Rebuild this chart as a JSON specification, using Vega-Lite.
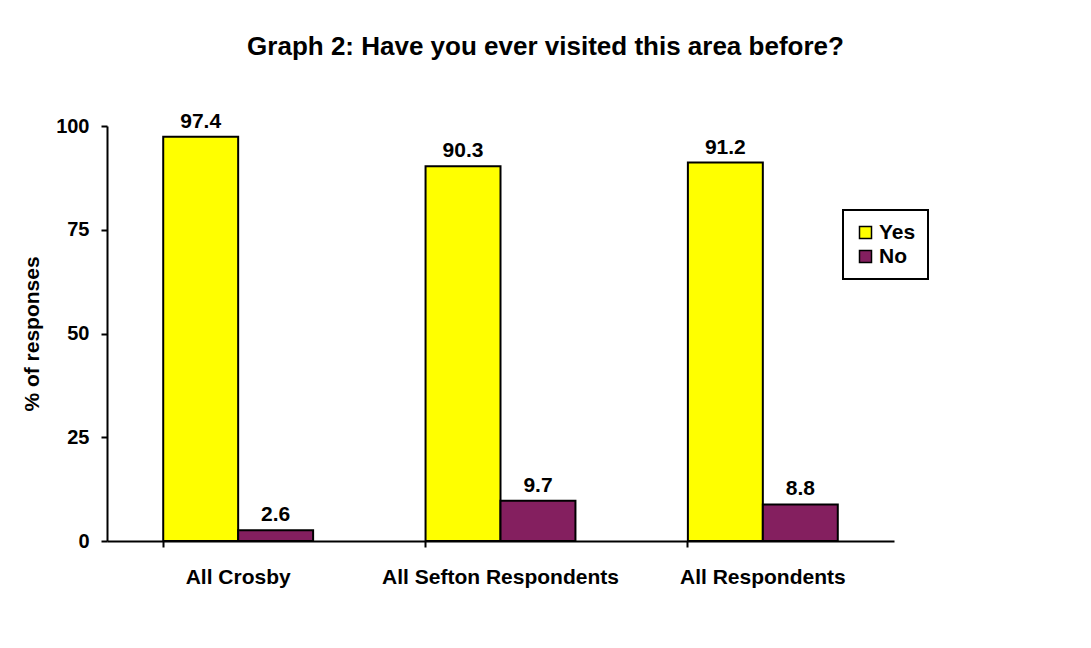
{
  "$schema": "https://vega.github.io/schema/vega-lite/v6.json",
  "autosize": {"type": "none"},
  "width": 787,
  "height": 415,
  "padding": {"left": 107, "top": 126, "right": 197, "bottom": 107},
  "background": "white",
  "title": {
    "text": "Graph 2: Have you ever visited this area before?",
    "font": "Liberation Sans",
    "fontSize": 26,
    "fontWeight": "bold",
    "color": "black",
    "anchor": "middle",
    "frame": "group",
    "baseline": "alphabetic",
    "dx": 45,
    "dy": 4,
    "offset": 34
  },
  "data": {
    "values": [
      {"group": "All Crosby", "answer": "Yes", "pct": 97.4},
      {"group": "All Crosby", "answer": "No", "pct": 2.6},
      {"group": "All Sefton Respondents", "answer": "Yes", "pct": 90.3},
      {"group": "All Sefton Respondents", "answer": "No", "pct": 9.7},
      {"group": "All Respondents", "answer": "Yes", "pct": 91.2},
      {"group": "All Respondents", "answer": "No", "pct": 8.8}
    ]
  },
  "encoding": {
    "x": {
      "field": "group",
      "type": "nominal",
      "sort": ["All Crosby", "All Sefton Respondents", "All Respondents"],
      "scale": {"paddingInner": 0.4286, "paddingOuter": 0.2143},
      "axis": {
        "title": null,
        "labelAngle": 0,
        "labelLimit": 0,
        "labelFont": "Liberation Sans",
        "labelFontSize": 21,
        "labelFontWeight": "bold",
        "labelColor": "black",
        "labelPadding": 19,
        "bandPosition": 0,
        "tickSize": 6,
        "tickWidth": 2,
        "tickColor": "black",
        "domainColor": "black",
        "domainWidth": 2
      }
    },
    "xOffset": {
      "field": "answer",
      "type": "nominal",
      "sort": ["Yes", "No"],
      "scale": {"paddingInner": 0, "paddingOuter": 0}
    },
    "y": {
      "field": "pct",
      "type": "quantitative",
      "scale": {"domain": [0, 100], "nice": false},
      "axis": {
        "values": [0, 25, 50, 75, 100],
        "grid": false,
        "title": "% of responses",
        "titleFont": "Liberation Sans",
        "titleFontSize": 21,
        "titleFontWeight": "bold",
        "titleColor": "black",
        "titlePadding": 13,
        "labelFont": "Liberation Sans",
        "labelFontSize": 20,
        "labelFontWeight": "bold",
        "labelColor": "black",
        "labelPadding": 12,
        "tickSize": 6,
        "tickWidth": 2,
        "tickColor": "black",
        "domainColor": "black",
        "domainWidth": 2
      }
    }
  },
  "layer": [
    {
      "mark": {"type": "bar", "stroke": "black", "strokeWidth": 2},
      "encoding": {
        "color": {
          "field": "answer",
          "type": "nominal",
          "sort": ["Yes", "No"],
          "scale": {"domain": ["Yes", "No"], "range": ["#FFFF00", "#841F5F"]},
          "legend": {
            "title": null,
            "orient": "none",
            "legendX": 736,
            "legendY": 84,
            "symbolType": "square",
            "symbolSize": 144,
            "symbolStrokeColor": "black",
            "symbolStrokeWidth": 1.5,
            "labelFont": "Liberation Sans",
            "labelFontSize": 21,
            "labelFontWeight": "bold",
            "labelColor": "black",
            "labelOffset": 3,
            "labelExpr": "datum.label + '   '",
            "rowPadding": 2,
            "padding": 12,
            "strokeColor": "black",
            "fillColor": "white",
            "encode": {
              "legend": {"update": {"strokeWidth": {"value": 2}}}
            }
          }
        }
      }
    },
    {
      "mark": {
        "type": "text",
        "baseline": "alphabetic",
        "dy": -9,
        "font": "Liberation Sans",
        "fontSize": 21,
        "fontWeight": "bold",
        "color": "black"
      },
      "encoding": {
        "text": {"field": "pct", "type": "quantitative", "format": ".1f"}
      }
    }
  ],
  "config": {"view": {"stroke": null}}
}
